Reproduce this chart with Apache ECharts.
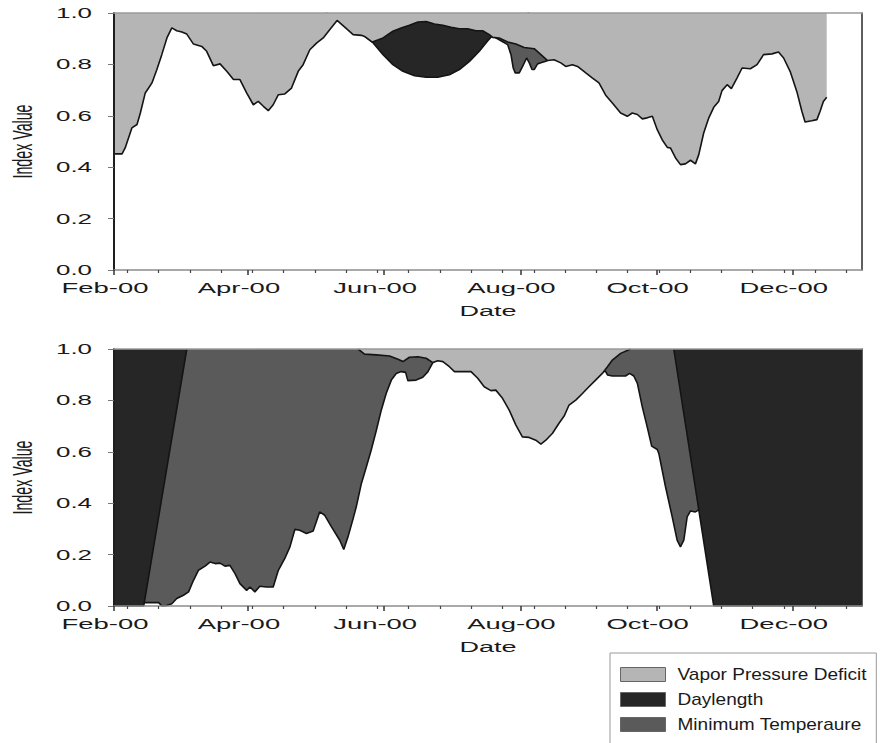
<!DOCTYPE html>
<html>
<head>
<meta charset="utf-8">
<script src="https://cdn.jsdelivr.net/npm/echarts@6/dist/echarts.min.js"></script>
<style>
html,body{margin:0;padding:0;background:#fff;}
#chart{width:880px;height:743px;}
</style>
</head>
<body>
<div id="chart"></div>
<script>
// ---- Axis labels / ticks ----
const monthTickDays = [0, 60, 121, 182, 243, 304];
const monthLabels = ['Feb-00', 'Apr-00', 'Jun-00', 'Aug-00', 'Oct-00', 'Dec-00'];
const minorTickDays = [6, 20, 34, 48, 62, 76, 90, 104, 118, 132, 146, 160, 174, 188, 202, 216, 230, 244, 258, 272, 286, 300, 314, 328];
const yTickValues = [0, 0.2, 0.4, 0.6, 0.8, 1.0];
const yTickLabels = ['0.0', '0.2', '0.4', '0.6', '0.8', '1.0'];
const seriesNames = ['Vapor Pressure Deficit', 'Daylength', 'Minimum Temperaure'];

// ---- Top panel (days since Feb 1, 2000) ----
const topVpdDays = [0, 3.6, 5, 8, 10.3, 11.8, 14, 15.5, 17, 19.2, 21.4, 23.7, 25.9, 28.1, 30.4, 32.6, 35.6, 39.3, 41.5, 44.5, 47.5, 50.5, 53.5, 56.4, 59.4, 62.4, 64.6, 66.9, 69.1, 71.3, 73.6, 76.5, 79.5, 82.5, 84.7, 87.7, 90.7, 93.7, 96.6, 99.9, 104.1, 107.1, 110.8, 112.2, 115.7, 120.5, 124.9, 128.6, 132.3, 136.1, 139.8, 143.5, 147.3, 151, 154.7, 158.4, 162.1, 165.1, 168.1, 169.6, 172.5, 176.3, 180, 183.7, 188.2, 191.2, 194.2, 197.1, 200.1, 202.3, 205.3, 207.6, 211.3, 214.3, 217.2, 220.2, 223.2, 226.9, 229.9, 232.1, 234.4, 236.6, 238.8, 241.1, 243.3, 245.5, 247.8, 249.2, 251.5, 253.7, 255.9, 258.2, 260.4, 261.9, 264.1, 266.4, 268.6, 270.8, 272.3, 274.6, 276.5, 279, 281.3, 285, 288, 290.9, 294.7, 297.6, 299.9, 302.8, 305.8, 308.1, 309.5, 312.5, 314.8, 316.2, 317.7, 319.2];
const topVpdVals = [0.452, 0.452, 0.475, 0.553, 0.566, 0.611, 0.689, 0.708, 0.728, 0.78, 0.838, 0.903, 0.942, 0.931, 0.926, 0.918, 0.879, 0.870, 0.851, 0.795, 0.802, 0.773, 0.741, 0.741, 0.689, 0.643, 0.656, 0.637, 0.620, 0.643, 0.682, 0.685, 0.708, 0.773, 0.799, 0.857, 0.883, 0.903, 0.935, 0.971, 0.939, 0.916, 0.913, 0.909, 0.887, 0.903, 0.929, 0.942, 0.952, 0.965, 0.967, 0.957, 0.952, 0.944, 0.939, 0.939, 0.931, 0.931, 0.916, 0.905, 0.903, 0.887, 0.879, 0.866, 0.861, 0.838, 0.815, 0.818, 0.806, 0.792, 0.799, 0.792, 0.767, 0.747, 0.728, 0.680, 0.650, 0.611, 0.598, 0.611, 0.605, 0.588, 0.592, 0.598, 0.546, 0.507, 0.477, 0.475, 0.436, 0.410, 0.413, 0.427, 0.413, 0.449, 0.533, 0.592, 0.633, 0.656, 0.698, 0.721, 0.706, 0.747, 0.786, 0.783, 0.799, 0.838, 0.841, 0.848, 0.825, 0.773, 0.695, 0.617, 0.576, 0.581, 0.585, 0.617, 0.656, 0.672];

const topDayDays = [95, 100, 105, 110, 115.7, 120.5, 124.9, 129.4, 134.6, 139.8, 145, 150.2, 154.7, 159.2, 163.6, 167.4, 169.6, 174, 180, 186];
const topDayVals = [1.0, 0.985, 0.96, 0.925, 0.887, 0.838, 0.799, 0.773, 0.756, 0.750, 0.750, 0.760, 0.780, 0.812, 0.851, 0.892, 0.913, 0.95, 0.985, 1.0];

const topTminDays = [165, 169.6, 173.3, 176.3, 177.8, 178.8, 179.7, 181.5, 183, 184.8, 186, 187.2, 188.2, 189.7, 191.2, 193.4, 194.9, 197, 202];
const topTminVals = [0.97, 0.91, 0.892, 0.877, 0.838, 0.786, 0.767, 0.767, 0.792, 0.825, 0.806, 0.78, 0.78, 0.802, 0.806, 0.812, 0.82, 0.84, 0.87];

// ---- Bottom panel ----
const botVpdDays = [109.3, 112.2, 117.5, 123.4, 127.2, 129.4, 132.3, 136.1, 139.8, 142.8, 145, 147.3, 150.2, 152.5, 159.9, 162.9, 165.8, 168.8, 171, 174, 177, 180, 182.9, 185.9, 188.9, 191.2, 193.4, 196.4, 199.3, 201.6, 203.8, 206.8, 209.8, 212.7, 215.7, 218.7, 221, 223.2, 226.9, 231.4];
const botVpdVals = [1.0, 0.98, 0.977, 0.973, 0.960, 0.951, 0.968, 0.970, 0.964, 0.947, 0.954, 0.951, 0.931, 0.912, 0.912, 0.886, 0.853, 0.838, 0.840, 0.808, 0.762, 0.704, 0.658, 0.656, 0.645, 0.630, 0.645, 0.672, 0.711, 0.739, 0.782, 0.801, 0.827, 0.853, 0.879, 0.905, 0.931, 0.957, 0.983, 1.0];

const botDayDays = [0, 13.3, 32.6, 140, 250.7, 268.6, 335];
const botDayVals = [0, 0, 1.0, null, 1.0, 0, 0];

const botTminDays = [0, 13.3, 20, 21.4, 22.9, 25.9, 28.1, 31.1, 33.4, 35.6, 37.8, 40.8, 43, 45.3, 47.5, 49.7, 51.9, 54.2, 56.4, 59.4, 60.9, 63.1, 65.3, 68.3, 71.3, 73.6, 76.5, 78.8, 81, 83.2, 86.2, 89.2, 92.1, 94.4, 97.4, 101.1, 102.9, 104.8, 107.1, 108.5, 110.8, 113, 115.2, 117.5, 119.7, 121.9, 124.2, 126.4, 128.6, 130.6, 131.6, 135.3, 138.3, 140.6, 142.8, 146, 155, 165, 175, 185, 200, 210, 217, 220.2, 221, 223.2, 229.1, 230.9, 232.8, 234.4, 236.6, 238.8, 240.8, 243.3, 244, 247, 250, 252.2, 253.7, 255.2, 256.7, 258.2, 260.4, 263, 270];
const botTminVals = [0.013, 0.013, 0.013, 0.0, 0.0, 0.009, 0.029, 0.042, 0.055, 0.100, 0.139, 0.155, 0.171, 0.165, 0.167, 0.155, 0.158, 0.126, 0.087, 0.061, 0.074, 0.055, 0.077, 0.074, 0.074, 0.139, 0.185, 0.230, 0.298, 0.295, 0.282, 0.292, 0.366, 0.353, 0.308, 0.256, 0.220, 0.269, 0.340, 0.386, 0.477, 0.541, 0.607, 0.684, 0.762, 0.827, 0.879, 0.905, 0.912, 0.909, 0.877, 0.879, 0.890, 0.912, 0.947, 0.97, 0.95, 0.95, 0.94, 0.93, 0.93, 0.93, 0.92, 0.912, 0.899, 0.895, 0.895, 0.905, 0.895, 0.866, 0.775, 0.697, 0.622, 0.609, 0.594, 0.464, 0.347, 0.256, 0.230, 0.256, 0.347, 0.370, 0.366, 0.38, 0.3];

// ---- Styling ----
const FONT = '"Liberation Sans", Arial, sans-serif';
const TXT = '#1a1a1a';
const C_VPD = '#b5b5b5';
const C_DAY = '#262626';
const C_TMIN = '#5a5a5a';
const grids = [
  {left: 112, top: 13, width: 750, height: 257},
  {left: 112, top: 349, width: 750, height: 257}
];

function pairs(days, vals) { return days.map((d, i) => [d, vals[i]]); }

function mkSeries(name, days, vals, color, g, z) {
  return {
    name: name, type: 'line', xAxisIndex: g * 3, yAxisIndex: g * 2,
    data: pairs(days, vals), showSymbol: false, symbol: 'none',
    color: color, connectNulls: false, silent: true, animation: false,
    lineStyle: {color: '#141414', width: 1.6},
    areaStyle: {color: color, opacity: 1, origin: 'end'},
    z: z
  };
}

const xAxes = [], yAxes = [];
for (let g = 0; g < 2; g++) {
  xAxes.push({
    type: 'value', gridIndex: g, min: 0, max: 335, position: 'bottom', z: 10,
    name: 'Date', nameLocation: 'middle', nameGap: 34,
    nameTextStyle: {fontFamily: FONT, fontSize: 14, color: TXT},
    axisLine: {show: true, onZero: false, lineStyle: {color: '#8c8c8c', width: 1.5}},
    axisTick: {show: true, customValues: monthTickDays, length: 5, lineStyle: {color: '#333', width: 1.5}},
    axisLabel: {
      customValues: monthTickDays, showMinLabel: true, showMaxLabel: true,
      formatter: v => monthLabels[monthTickDays.indexOf(v)] || '',
      margin: 11, padding: [0, 18, 0, 0], fontFamily: FONT, fontSize: 14, color: TXT
    },
    splitLine: {show: false}
  });
  xAxes.push({
    type: 'value', gridIndex: g, min: 0, max: 335, position: 'bottom', z: 10,
    axisLine: {show: false, onZero: false},
    axisTick: {show: true, customValues: minorTickDays, length: 3, lineStyle: {color: '#444', width: 1.2}},
    axisLabel: {show: false}, splitLine: {show: false}
  });
  xAxes.push({
    type: 'value', gridIndex: g, min: 0, max: 335, position: 'top', z: 10,
    axisLine: {show: true, onZero: false, lineStyle: {color: '#9a9a9a', width: 1.5}},
    axisTick: {show: false}, axisLabel: {show: false}, splitLine: {show: false}
  });
  yAxes.push({
    type: 'value', gridIndex: g, min: 0, max: 1, interval: 0.2, position: 'left', z: 10,
    name: 'Index Value', nameLocation: 'middle', nameGap: 78, nameRotate: 90,
    nameTextStyle: {fontFamily: FONT, fontSize: 28, color: TXT},
    axisLine: {show: true, onZero: false, lineStyle: {color: '#1e1e1e', width: 2}},
    axisTick: {show: true, length: 6, lineStyle: {color: '#777'}},
    axisLabel: {
      margin: 22, fontFamily: FONT, fontSize: 14, color: TXT,
      formatter: v => { const i = yTickValues.findIndex(t => Math.abs(t - v) < 1e-6); return i >= 0 ? yTickLabels[i] : ''; }
    },
    splitLine: {show: false}
  });
  yAxes.push({
    type: 'value', gridIndex: g, min: 0, max: 1, position: 'right', z: 10,
    axisLine: {show: true, onZero: false, lineStyle: {color: '#2a2a2a', width: 1.5}},
    axisTick: {show: false}, axisLabel: {show: false}, splitLine: {show: false}
  });
}

const series = [
  mkSeries(seriesNames[2], topTminDays, topTminVals, C_TMIN, 0, 2),
  mkSeries(seriesNames[1], topDayDays, topDayVals, C_DAY, 0, 3),
  mkSeries(seriesNames[0], topVpdDays, topVpdVals, C_VPD, 0, 4),
  mkSeries(seriesNames[2], botTminDays, botTminVals, C_TMIN, 1, 2),
  mkSeries(seriesNames[1], botDayDays, botDayVals, C_DAY, 1, 3),
  mkSeries(seriesNames[0], botVpdDays, botVpdVals, C_VPD, 1, 4)
];

const option = {
  animation: false,
  backgroundColor: '#ffffff',
  grid: grids.map(g => Object.assign({containLabel: false, show: false}, g)),
  xAxis: xAxes,
  yAxis: yAxes,
  legend: {
    data: seriesNames, orient: 'vertical', left: 610, top: 653, height: 160,
    padding: [13, 30, 30, 10], itemGap: 8, itemWidth: 45, itemHeight: 14,
    icon: 'rect', borderColor: '#999', borderWidth: 1, backgroundColor: '#fff',
    itemStyle: {borderColor: '#666', borderWidth: 1},
    textStyle: {fontFamily: FONT, fontSize: 17, color: TXT, padding: [0, 0, 0, 7]},
    selectedMode: false
  },
  series: series
};

const chart = echarts.init(document.getElementById('chart'), null, {renderer: 'svg'});
chart.setOption(option);

// Horizontal stretch of text glyphs to mimic the reference's wide lettering.
const stretchMap = {};
yTickLabels.forEach(s => stretchMap[s] = {k: 1.85});
monthLabels.forEach(s => stretchMap[s] = {k: 1.96});
stretchMap['Date'] = {k: 1.93};
stretchMap['Index Value'] = {w: 74};
seriesNames.forEach(s => stretchMap[s] = {k: 1.12});

function stretchTexts() {
  const svg = document.querySelector('#chart svg');
  if (!svg) return;
  svg.querySelectorAll('text').forEach(t => {
    const s = (t.textContent || '').trim();
    const cfg = stretchMap[s];
    if (!cfg || t.getAttribute('textLength')) return;
    let len = 0;
    try { len = t.getComputedTextLength(); } catch (e) { return; }
    if (!len) return;
    const target = cfg.w ? cfg.w : len * cfg.k;
    t.setAttribute('textLength', target.toFixed(2));
    t.setAttribute('lengthAdjust', 'spacingAndGlyphs');
  });
}
stretchTexts();
chart.on('finished', stretchTexts);
requestAnimationFrame(stretchTexts);
setTimeout(stretchTexts, 50);
</script>
</body>
</html>
